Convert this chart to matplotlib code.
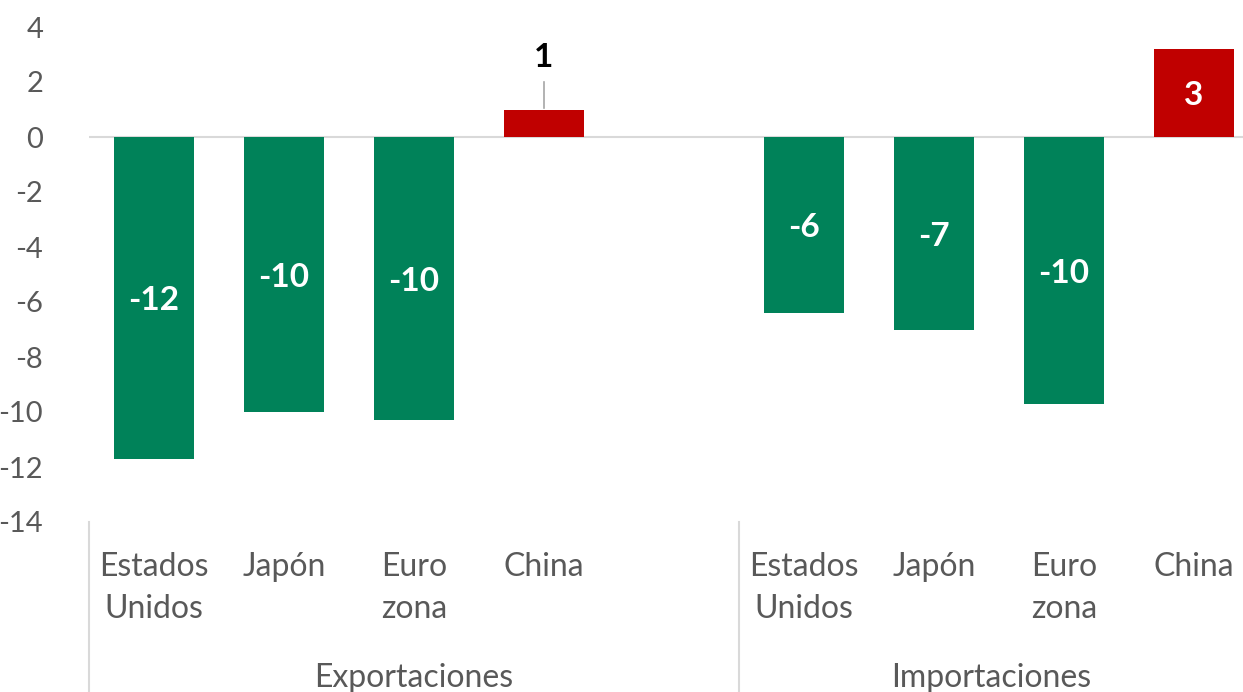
import matplotlib
matplotlib.use("Agg")
import matplotlib.pyplot as plt

plt.rcParams["font.family"] = ["Lato", "DejaVu Sans"]
plt.rcParams["axes.unicode_minus"] = False

GREEN = "#008259"
RED = "#c00000"
GREY = "#595959"
LINE = "#d9d9d9"

countries = ["Estados\nUnidos", "Japón", "Euro\nzona", "China"]
groups = ["Exportaciones", "Importaciones"]
exports = [-11.7, -10.0, -10.3, 1.0]
imports = [-6.4, -7.0, -9.7, 3.2]

fig = plt.figure(figsize=(12.43, 6.92), dpi=100)
ax = fig.add_axes([89 / 1243, 1 - 522 / 692, 1 - 89 / 1243, (522 - 27) / 692])

# slots: 0-3 exports, 4 empty, 5-8 imports
xs_exp = [0, 1, 2, 3]
xs_imp = [5, 6, 7, 8]
xs = xs_exp + xs_imp
vals = exports + imports
colors = [RED if v > 0 else GREEN for v in vals]
ax.bar(xs, vals, width=0.62, color=colors, zorder=2)

xmax = -0.5 + (1243 - 89) / 130
ax.set_xlim(-0.5, xmax)
ax.set_ylim(-14, 4)
ax.set_yticks(range(-14, 5, 2))
ax.tick_params(axis="y", length=0, labelsize=21, labelcolor=GREY, pad=33)
ax.set_xticks([])
for s in ax.spines.values():
    s.set_visible(False)
ax.axhline(0, color=LINE, lw=1.5, zorder=1)

# value labels
for x, v in zip(xs, vals):
    lab = f"{round(v):d}"
    if v > 0 and v < 2:
        ax.plot([x, x], [v + 0.05, v + 1.0], color="#a6a6a6", lw=1.2)
        ax.text(x, v + 1.9, lab, ha="center", va="center", fontsize=24,
                fontweight="bold", color="black")
    else:
        ax.text(x, v / 2 - 0.1, lab, ha="center", va="center", fontsize=24,
                fontweight="bold", color="white")

# category labels
for x, c in zip(xs, countries * 2):
    ax.text(x, -15.1, c, ha="center", va="top", fontsize=23, color=GREY,
            linespacing=1.5, clip_on=False)

ax.text(2, -19.68, groups[0], ha="center", va="center", fontsize=23,
        color=GREY, clip_on=False)
ax.text((4.5 + xmax) / 2, -19.68, groups[1], ha="center", va="center",
        fontsize=23, color=GREY, clip_on=False)

for sx in [-0.5, 4.5]:
    ax.plot([sx, sx], [-14, -20.3], color=LINE, lw=1.5, clip_on=False)

fig.savefig("out.png", dpi=100)
